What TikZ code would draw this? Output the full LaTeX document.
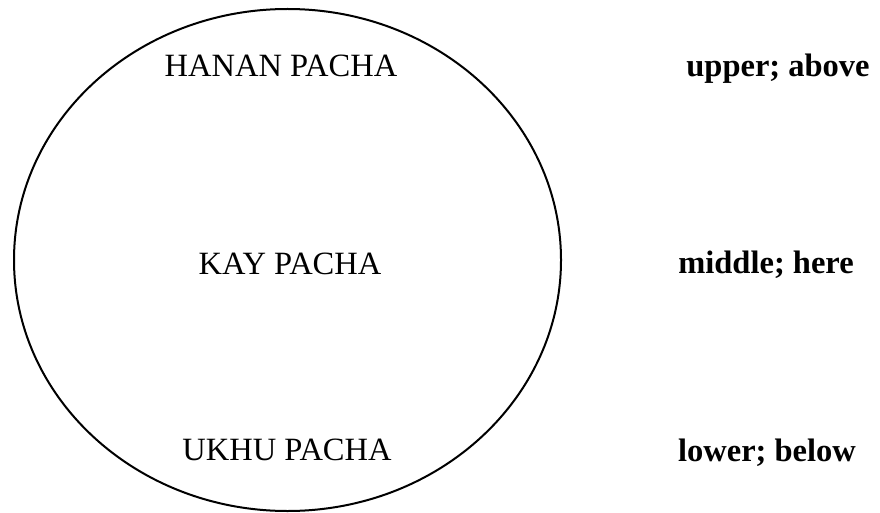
\documentclass[tikz,border=0pt]{standalone}
\usepackage{fontspec}
\setmainfont{Liberation Serif}
\begin{document}
\begin{tikzpicture}[x=1pt,y=-1pt,
  realm/.style={font=\fontsize{32.5}{36}\selectfont, anchor=base, inner sep=0pt},
  gloss/.style={font=\fontsize{32.5}{36}\selectfont\bfseries, anchor=base, inner sep=0pt}]
\useasboundingbox (0,0) rectangle (880,513);
\draw[line width=2pt] (287.5,260) ellipse [x radius=273.5, y radius=251];
\node[realm] (hanan) at (281,77) {HANAN PACHA};
\node[realm] (kay) at (290,274) {KAY PACHA};
\node[realm] (ukhu) at (287,460) {UKHU PACHA};
\node[gloss] (upper) at (778,77) {upper; above};
\node[gloss] (middle) at (766,273) {middle; here};
\node[gloss] (lower) at (767,461) {lower; below};
\end{tikzpicture}
\end{document}
